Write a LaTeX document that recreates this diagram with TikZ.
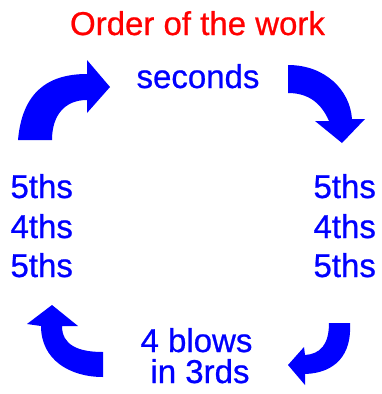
\documentclass[tikz,border=0pt]{standalone}
\usepackage{fontspec}
\setmainfont{Liberation Sans}
\newfontfamily\labelfont[FakeBold=0.7]{Liberation Sans}
\definecolor{pureblue}{RGB}{0,0,255}
\definecolor{purered}{RGB}{255,0,0}
\tikzset{
  lbl/.style={inner sep=0pt, outer sep=0pt, font=\labelfont\fontsize{33}{33}\selectfont},
  bluelbl/.style={lbl, text=pureblue},
  redlbl/.style={lbl, text=purered},
  bigarrow/.style={fill=pureblue, draw=none}
}
\begin{document}
\begin{tikzpicture}[x=1pt,y=-1pt]
\useasboundingbox (0,0) rectangle (382,394);
% title and labels
\node[redlbl, anchor=base] (title) at (197.5,35) {Order of the work};
\node[bluelbl, anchor=base] (sec) at (198,88) {seconds};
\node[bluelbl, anchor=base west] (l1) at (10.5,198) {5ths};
\node[bluelbl, anchor=base west] (l2) at (10.5,238) {4ths};
\node[bluelbl, anchor=base west] (l3) at (10.5,277) {5ths};
\node[bluelbl, anchor=base west] (r1) at (313.5,198) {5ths};
\node[bluelbl, anchor=base west] (r2) at (313.5,238) {4ths};
\node[bluelbl, anchor=base west] (r3) at (313.5,277) {5ths};
\node[bluelbl, anchor=base] (b1) at (196.5,352) {4 blows};
\node[bluelbl, anchor=base] (b2) at (200,383) {in 3rds};
% top-left curved arrow (pointing right)
\fill[bigarrow] (18,140) .. controls (22,95) and (45,74) .. (87,74)
  -- (87,60) -- (110,87) -- (87,113) -- (87,100)
  .. controls (65,100) and (52,115) .. (52,140) -- cycle;
% top-right curved arrow (pointing down)
\fill[bigarrow] (288,65) .. controls (325,65) and (350,90) .. (352,119)
  -- (365,119) -- (342,143) -- (315,121) -- (329,121)
  .. controls (320,100) and (305,93) .. (288,93) -- cycle;
% bottom-right curved arrow (pointing left)
\fill[bigarrow] (329,323) -- (350,323) .. controls (352,355) and (335,373) .. (305,374)
  -- (305,385) -- (288,365) -- (304,347) -- (305,355)
  .. controls (320,354) and (329,345) .. (329,323) -- cycle;
% bottom-left curved arrow (pointing up)
\fill[bigarrow] (103,352) .. controls (78,352) and (62,345) .. (62,326)
  -- (78,326) -- (52,305) -- (27,324) -- (41,326)
  .. controls (41,360) and (70,377) .. (103,377) -- cycle;
\end{tikzpicture}
\end{document}
